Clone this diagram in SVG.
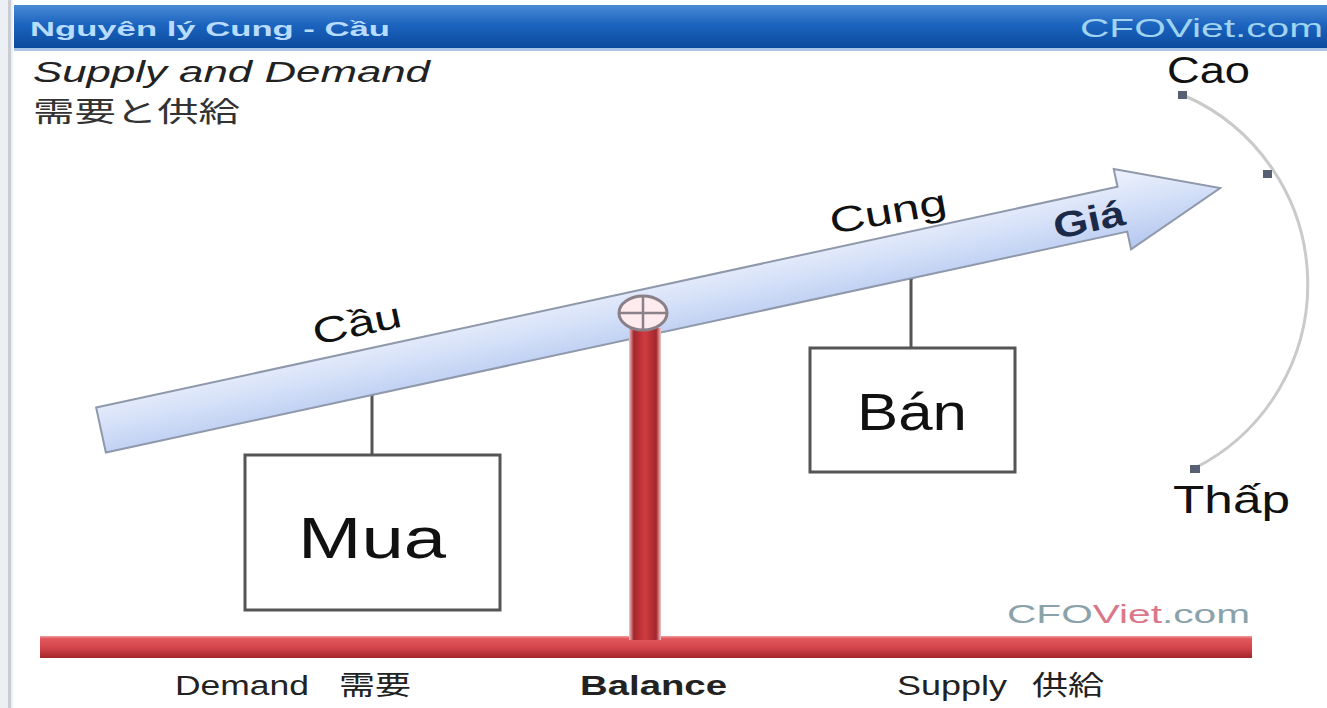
<svg xmlns="http://www.w3.org/2000/svg" width="1327" height="708" viewBox="0 0 1327 708">
<defs>
<linearGradient id="hdr" x1="0" y1="0" x2="0" y2="1">
<stop offset="0" stop-color="#4a8ad6"/><stop offset="0.45" stop-color="#1c64bf"/><stop offset="1" stop-color="#0b4a9e"/>
</linearGradient>
<linearGradient id="arr" gradientUnits="userSpaceOnUse" x1="0" y1="-41" x2="0" y2="41">
<stop offset="0" stop-color="#eef2fc"/><stop offset="0.5" stop-color="#d3dff8"/><stop offset="1" stop-color="#b4c7ef"/>
</linearGradient>
<linearGradient id="pole" x1="0" y1="0" x2="1" y2="0">
<stop offset="0" stop-color="#f3c6c8"/><stop offset="0.15" stop-color="#a3272c"/><stop offset="0.5" stop-color="#cf3c40"/><stop offset="0.85" stop-color="#a3272c"/><stop offset="1" stop-color="#f3c6c8"/>
</linearGradient>
<linearGradient id="bar" x1="0" y1="0" x2="0" y2="1">
<stop offset="0" stop-color="#f2a0a2"/><stop offset="0.12" stop-color="#e2585c"/><stop offset="0.55" stop-color="#d2444a"/><stop offset="1" stop-color="#a2262a"/>
</linearGradient>
<style>
.t{font-family:"Liberation Sans",Arial,sans-serif;}
.j{font-family:"Liberation Sans","Noto Sans CJK JP",sans-serif;}
.box{fill:#fff;stroke:#555;stroke-width:3;}
.big{font-size:58px;fill:#111;text-anchor:middle;}
.lab{font-size:36px;fill:#111;text-anchor:middle;}
.bot{font-size:27px;fill:#222;}
.dot{fill:#566072;}
.conn{stroke:#555;stroke-width:3;fill:none;}
</style>
</defs>
<rect width="1327" height="708" fill="#ffffff"/>
<g id="frame">
<rect x="0" y="0" width="13" height="708" fill="#eceff3"/>
<rect x="8" y="0" width="3" height="708" fill="#c9cdd3"/>
</g>
<g id="header">
<rect x="14" y="5" width="1313" height="43" fill="url(#hdr)"/>
<rect x="14" y="48" width="1313" height="3" fill="#a9c4e6"/>
<text class="t" x="30" y="36" font-size="21" font-weight="bold" fill="#b8dcff" textLength="360" lengthAdjust="spacingAndGlyphs">Nguyên lý Cung - Cầu</text>
<text class="t" x="1080" y="37" font-size="26" fill="#9fd3f0" textLength="243" lengthAdjust="spacingAndGlyphs">CFOViet.com</text>
</g>
<g id="title">
<text class="t" x="33" y="82" font-size="30" font-style="italic" fill="#222" textLength="397" lengthAdjust="spacingAndGlyphs">Supply and Demand</text>
<text class="j" x="33" y="122" font-size="28" fill="#333" textLength="207" lengthAdjust="spacingAndGlyphs">需要と供給</text>
</g>
<g id="connectors">
<line class="conn" x1="372" y1="395" x2="372" y2="455"/>
<line x1="372" y1="368" x2="372" y2="396" stroke="#2c3b5c" stroke-width="3"/>
<line class="conn" x1="911" y1="278" x2="911" y2="348"/>
<line x1="911" y1="255" x2="911" y2="280" stroke="#2c3b5c" stroke-width="3"/>
</g>
<g id="arrow" transform="translate(101,430) rotate(-12.2)">
<path d="M0,-23 L1045,-23 L1045,-41 L1145,0 L1045,41 L1045,23 L0,23 Z" fill="url(#arr)" stroke="#8f99ab" stroke-width="2"/>
</g>
<g id="label-cau"><text class="t lab" x="357" y="336" transform="rotate(-12 357 324)" textLength="90" lengthAdjust="spacingAndGlyphs">Cầu</text></g>
<g id="label-cung"><text class="t lab" x="888" y="224" transform="rotate(-10 888 212)" textLength="118" lengthAdjust="spacingAndGlyphs">Cung</text></g>
<g id="label-gia"><text class="t lab" x="1089" y="232" font-size="34" font-weight="bold" transform="rotate(-12 1089 220)" textLength="72" lengthAdjust="spacingAndGlyphs" style="fill:#1b2a48">Giá</text></g>
<g id="base">
<rect x="40" y="636" width="1212" height="22" fill="url(#bar)"/>
</g>
<g id="pole">
<rect x="629" y="328" width="32" height="312" fill="url(#pole)"/>
</g>
<g id="pivot">
<ellipse cx="643" cy="313" rx="24" ry="17" fill="#fdebed" stroke="#8a8088" stroke-width="3"/>
<line x1="643" y1="296" x2="643" y2="330" stroke="#8a8088" stroke-width="2.5"/>
<line x1="619" y1="313" x2="667" y2="313" stroke="#8a8088" stroke-width="2.5"/>
</g>
<g id="mua">
<rect class="box" x="245" y="455" width="255" height="155"/>
<text class="t big" x="372" y="558" textLength="148" lengthAdjust="spacingAndGlyphs">Mua</text>
</g>
<g id="ban">
<rect class="box" x="810" y="348" width="205" height="124"/>
<text class="t big" x="912" y="430" style="font-size:52px" textLength="110" lengthAdjust="spacingAndGlyphs">Bán</text>
</g>
<g id="scale-arc">
<path d="M1183,95 A206,206 0 0 1 1195,468" fill="none" stroke="#cacaca" stroke-width="3"/>
<rect class="dot" x="1178" y="91" width="9" height="8"/>
<rect class="dot" x="1263" y="170" width="9" height="8"/>
<rect class="dot" x="1190" y="465" width="10" height="8"/>
<text class="t" x="1167" y="83" font-size="36" fill="#111" textLength="83" lengthAdjust="spacingAndGlyphs">Cao</text>
<text class="t" x="1173" y="513" font-size="39" fill="#111" textLength="117" lengthAdjust="spacingAndGlyphs">Thấp</text>
</g>
<g id="watermark">
<text class="t" x="1007" y="623" font-size="25" textLength="243" lengthAdjust="spacingAndGlyphs"><tspan fill="#8aa2aa">CFO</tspan><tspan fill="#d9788a">Viet</tspan><tspan fill="#8aa2aa">.com</tspan></text>
</g>
<g id="bottom-labels">
<text class="t bot" x="175" y="695" textLength="134" lengthAdjust="spacingAndGlyphs">Demand</text>
<text class="j bot" x="339" y="695" textLength="72" lengthAdjust="spacingAndGlyphs">需要</text>
<text class="t bot" x="580" y="695" font-weight="bold" fill="#111" textLength="147" lengthAdjust="spacingAndGlyphs">Balance</text>
<text class="t bot" x="897" y="695" textLength="110" lengthAdjust="spacingAndGlyphs">Supply</text>
<text class="j bot" x="1032" y="695" textLength="72" lengthAdjust="spacingAndGlyphs">供給</text>
</g>
</svg>
